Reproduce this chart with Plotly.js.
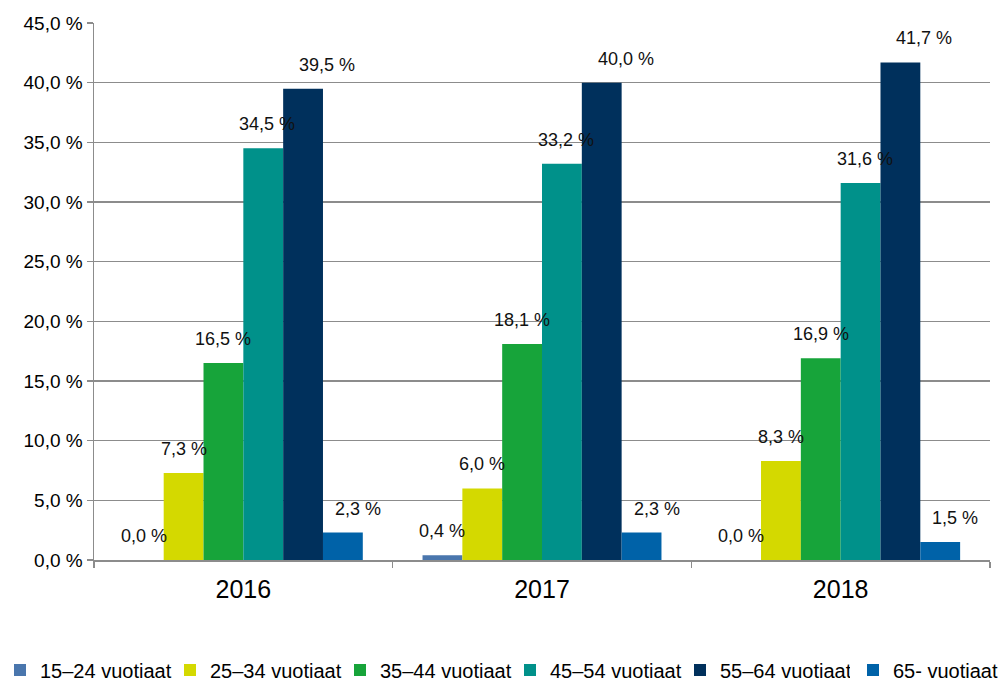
<!DOCTYPE html>
<html>
<head>
<meta charset="utf-8">
<script src="https://cdn.plot.ly/plotly-3.0.1.min.js"></script>
<style>html,body{margin:0;padding:0;background:#fff;}#chart{width:1000px;height:684px;}</style>
</head>
<body>
<div id="chart"></div>
<script>
const years = ["2016", "2017", "2018"];
const seriesNames = ["15–24 vuotiaat", "25–34 vuotiaat", "35–44 vuotiaat", "45–54 vuotiaat", "55–64 vuotiaat", "65- vuotiaat"];
const s15_24 = [0.0, 0.4, 0.0];
const s25_34 = [7.3, 6.0, 8.3];
const s35_44 = [16.5, 18.1, 16.9];
const s45_54 = [34.5, 33.2, 31.6];
const s55_64 = [39.5, 40.0, 41.7];
const s65 = [2.3, 2.3, 1.5];
const colors = ["#4a76ad", "#d4d900", "#17a43a", "#00918a", "#00305c", "#0062a8"];
// per-series horizontal nudge of the value labels (style)
const labelNudge = [0, 0, 0, 4, 24, 15];

const allSeries = [s15_24, s25_34, s35_44, s45_54, s55_64, s65];
const fmt = v => v.toFixed(1).replace('.', ',') + ' %';

const bargap = 0.2;
const nS = allSeries.length;
const bw = (1 - bargap) / nS;

const traces = allSeries.map((vals, i) => ({
  type: 'bar',
  name: seriesNames[i],
  x: years,
  y: vals,
  marker: {color: colors[i], line: {width: 0}},
  legend: i === nS - 1 ? 'legend2' : 'legend',
  hoverinfo: 'skip'
}));

const annotations = [];
allSeries.forEach((vals, i) => {
  vals.forEach((v, j) => {
    annotations.push({
      xref: 'x', yref: 'y',
      x: j - (1 - bargap) / 2 + bw * (i + 0.5),
      y: v,
      text: fmt(v),
      showarrow: false,
      yanchor: 'bottom',
      yshift: 12,
      xshift: labelNudge[i],
      font: {family: 'Liberation Sans, Arial, sans-serif', size: 18, color: '#111'}
    });
  });
});

const legendBase = {
  orientation: 'h', xref: 'container', yref: 'container',
  y: 0.049, xanchor: 'left', yanchor: 'top',
  font: {size: 20, color: '#000'},
  entrywidth: 125, entrywidthmode: 'pixels',
  itemwidth: 30, traceorder: 'normal', bgcolor: 'rgba(0,0,0,0)'
};

const layout = {
  width: 1000, height: 684,
  margin: {l: 94, r: 10, t: 23, b: 124},
  paper_bgcolor: '#fff', plot_bgcolor: '#fff',
  separators: ', ',
  barmode: 'group',
  bargap: bargap,
  bargroupgap: 0,
  font: {family: 'Liberation Sans, Arial, sans-serif', color: '#000'},
  showlegend: true,
  legend: Object.assign({}, legendBase, {x: 0}),
  legend2: Object.assign({}, legendBase, {x: 0.853}),
  xaxis: {
    type: 'category',
    showline: true, linecolor: '#8c8c8c', linewidth: 1.5,
    ticks: 'outside', tickson: 'boundaries', ticklen: 6, tickcolor: '#8c8c8c', tickwidth: 1.5,
    tickfont: {size: 25, color: '#000'},
    ticklabelstandoff: 6,
    showgrid: false, zeroline: false
  },
  yaxis: {
    range: [0, 45], dtick: 5, tick0: 0,
    tickformat: '.1f', ticksuffix: ' %',
    showline: true, linecolor: '#8c8c8c', linewidth: 1.5,
    ticks: 'outside', ticklen: 6, tickcolor: '#8c8c8c', tickwidth: 1.5,
    showgrid: true, gridcolor: '#8c8c8c', gridwidth: 1.5,
    zeroline: false,
    tickfont: {size: 19, color: '#000'}
  },
  annotations: annotations
};

Plotly.newPlot('chart', traces, layout, {displayModeBar: false, staticPlot: true});
</script>
</body>
</html>
